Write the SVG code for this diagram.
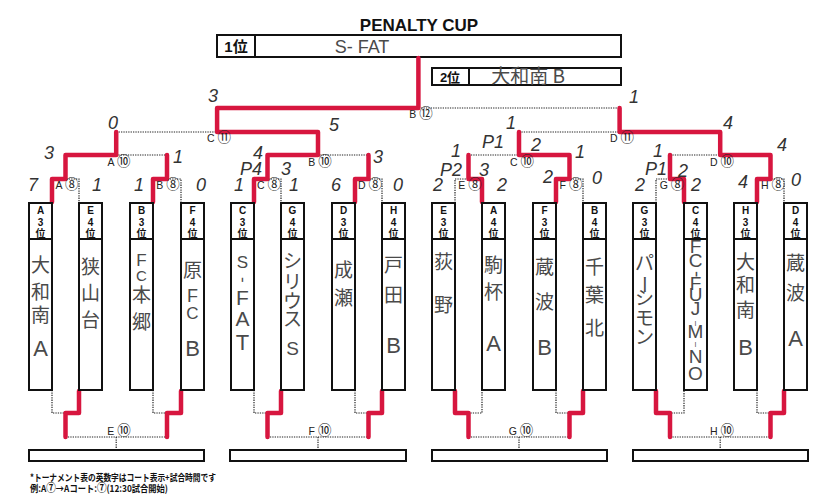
<svg xmlns="http://www.w3.org/2000/svg" width="837" height="504" viewBox="0 0 837 504">
<style>
.box{fill:#fff;stroke:#111;stroke-width:2}
.sep{stroke:#111;stroke-width:2}
.dot{fill:none;stroke:#222;stroke-width:1.2;stroke-dasharray:1.3 1.1}
.red{fill:none;stroke:#d7163f;stroke-width:4.5;stroke-linejoin:round;stroke-linecap:round}
.hd{font-family:"Liberation Sans","Noto Sans CJK JP",sans-serif;font-weight:bold;font-size:10px;text-anchor:middle;fill:#111}
.lbl{font-family:"Liberation Sans",sans-serif;font-size:10.5px;text-anchor:middle;fill:#222}
.cn{font-family:"Noto Sans CJK JP",sans-serif;font-size:13.5px}
.hw{font-family:"Noto Sans CJK JP",sans-serif;font-size:19px;fill:#4a4a4a;text-anchor:middle}
.lt{font-family:"Liberation Sans",sans-serif;fill:#4a4a4a}
.sc{font-family:"Liberation Sans",sans-serif;font-style:italic;font-size:18px;fill:#333;text-anchor:middle}
.title{font-family:"Liberation Sans",sans-serif;font-weight:bold;font-size:17px;text-anchor:middle;fill:#111}
.rk{font-family:"Liberation Sans","Noto Sans CJK JP",sans-serif;font-weight:bold;text-anchor:middle;fill:#111}
.note{font-family:"Noto Sans CJK JP",sans-serif;font-weight:bold;font-size:9.5px;fill:#111}
.ncn{font-size:11px}
</style>

<text class="title" x="419" y="31">PENALTY CUP</text>

<g id="first">
<rect class="box" x="217" y="35" width="404" height="22" stroke-width="2.5"/>
<line class="sep" x1="255" y1="35" x2="255" y2="57"/>
<text class="rk" x="236" y="52" font-size="15">1位</text>
<text class="lt" x="362" y="53" font-size="18" text-anchor="middle">S- FAT</text>
</g>
<g id="second">
<rect class="box" x="432" y="68" width="189" height="17"/>
<line class="sep" x1="469" y1="68" x2="469" y2="85"/>
<text class="rk" x="450" y="82" font-size="13">2位</text>
<text class="hw" x="528" y="82.5" font-size="14">大和南 B</text>
</g>

<g id="connectors">
<path class="dot" d="M52 203V179H79V203M65.5 179V155M153 203V179H181V203M167 179V155M254 203V179H281V203M267.5 179V155M355 203V179H382V203M368.5 179V155M455 203V179H482V203M468.5 179V155M556 203V179H583V203M569.5 179V155M656 203V179H684V203M670 179V155M757 203V179H784V203M770.5 179V155"/>
<path class="dot" d="M65.5 155H167M116.2 155V132M267.5 155H368.5M318 155V132M468.5 155H569.5M519 155V132M670 155H770.5M720.2 155V132"/>
<path class="dot" d="M116.2 132H318M217.1 132V108M519 132H720.2M619.6 132V108M217.1 108H619.6M418.4 108V57"/>
<path class="dot" d="M52 390V413H79V390M65.5 413V437M153 390V413H181V390M167 413V437M65.5 437H167M116.2 437V450"/>
<path class="dot" d="M254 390V413H281V390M267.5 413V437M355 390V413H382V390M368.5 413V437M267.5 437H368.5M318 437V450"/>
<path class="dot" d="M455 390V413H482V390M468.5 413V437M556 390V413H583V390M569.5 413V437M468.5 437H569.5M519 437V450"/>
<path class="dot" d="M656 390V413H684V390M670 413V437M757 390V413H784V390M770.5 413V437M670 437H770.5M720.2 437V450"/>
</g>

<g id="winners">
<path class="red" d="M52 202V179H65.5V155H116.2V132"/>
<path class="red" d="M153 202V179H167V155"/>
<path class="red" d="M254 202V179H267.5V155H318V132H217.1V108H418.4V58"/>
<path class="red" d="M355 202V179H368.5V155"/>
<path class="red" d="M482 202V179H468.5V155"/>
<path class="red" d="M556 202V179H569.5V155H519V132"/>
<path class="red" d="M684 202V179H670V155"/>
<path class="red" d="M757 202V179H770.5V155H720.2V132H619.6V108"/>
<path class="red" d="M79 391V413H65.5V437"/>
<path class="red" d="M181 391V413H167V437"/>
<path class="red" d="M281 391V413H267.5V437"/>
<path class="red" d="M382 391V413H368.5V437"/>
<path class="red" d="M455 391V413H468.5V437"/>
<path class="red" d="M583 391V413H569.5V437"/>
<path class="red" d="M656 391V413H670V437"/>
<path class="red" d="M784 391V413H770.5V437"/>
</g>

<g id="match-labels">
<text class="lbl" x="67" y="189">A <tspan class="cn">⑧</tspan></text>
<text class="lbl" x="168" y="189">B <tspan class="cn">⑧</tspan></text>
<text class="lbl" x="269" y="189">C <tspan class="cn">⑧</tspan></text>
<text class="lbl" x="370" y="189">D <tspan class="cn">⑧</tspan></text>
<text class="lbl" x="470" y="189">E <tspan class="cn">⑧</tspan></text>
<text class="lbl" x="571" y="189">F <tspan class="cn">⑧</tspan></text>
<text class="lbl" x="672" y="189">G <tspan class="cn">⑧</tspan></text>
<text class="lbl" x="773" y="189">H <tspan class="cn">⑧</tspan></text>
<text class="lbl" x="119" y="166">A <tspan class="cn">⑩</tspan></text>
<text class="lbl" x="320" y="166">B <tspan class="cn">⑩</tspan></text>
<text class="lbl" x="522" y="166">C <tspan class="cn">⑩</tspan></text>
<text class="lbl" x="722" y="166">D <tspan class="cn">⑩</tspan></text>
<text class="lbl" x="219" y="142">C <tspan class="cn">⑪</tspan></text>
<text class="lbl" x="622" y="142">D <tspan class="cn">⑪</tspan></text>
<text class="lbl" x="421" y="118">B <tspan class="cn">⑫</tspan></text>
<text class="lbl" x="119" y="435">E <tspan class="cn">⑩</tspan></text>
<text class="lbl" x="320" y="435">F <tspan class="cn">⑩</tspan></text>
<text class="lbl" x="521" y="435">G <tspan class="cn">⑩</tspan></text>
<text class="lbl" x="722" y="435">H <tspan class="cn">⑩</tspan></text>
</g>

<g id="scores">
<text class="sc" x="213" y="102">3</text>
<text class="sc" x="634" y="103">1</text>
<text class="sc" x="113" y="129">0</text>
<text class="sc" x="334" y="131">5</text>
<text class="sc" x="511" y="129">1</text>
<text class="sc" x="728" y="129">4</text>
<text class="sc" x="49" y="159">3</text>
<text class="sc" x="178" y="163">1</text>
<text class="sc" x="258" y="159">4</text>
<text class="sc" x="378" y="163">3</text>
<text class="sc" x="456" y="157">1</text>
<text class="sc" x="493" y="148" font-size="15">P1</text>
<text class="sc" x="536" y="151">2</text>
<text class="sc" x="580" y="158">1</text>
<text class="sc" x="658" y="157">1</text>
<text class="sc" x="782" y="151">4</text>
<text class="sc" x="251" y="175" font-size="14">P4</text>
<text class="sc" x="286" y="175" font-size="15">3</text>
<text class="sc" x="451" y="176" font-size="15">P2</text>
<text class="sc" x="484" y="176" font-size="15">3</text>
<text class="sc" x="656" y="175" font-size="15">P1</text>
<text class="sc" x="683" y="177" font-size="15">2</text>
<text class="sc" x="33" y="191">7</text>
<text class="sc" x="97" y="191">1</text>
<text class="sc" x="139" y="191">1</text>
<text class="sc" x="201" y="191">0</text>
<text class="sc" x="239" y="191">1</text>
<text class="sc" x="294" y="191">1</text>
<text class="sc" x="336" y="191">6</text>
<text class="sc" x="398" y="191">0</text>
<text class="sc" x="438" y="191">2</text>
<text class="sc" x="502" y="191">2</text>
<text class="sc" x="548" y="183">2</text>
<text class="sc" x="597" y="184">0</text>
<text class="sc" x="640" y="191">2</text>
<text class="sc" x="696" y="191">2</text>
<text class="sc" x="743" y="188">4</text>
<text class="sc" x="796" y="186">0</text>
</g>

<g id="team-A3">
<rect class="box" x="29" y="203" width="23" height="187"/><line class="sep" x1="29" y1="239" x2="52" y2="239"/>
<text class="hd"><tspan x="40.5" y="214">A</tspan><tspan x="40.5" y="226">3</tspan><tspan x="40.5" y="237">位</tspan></text>
<text class="hw"><tspan x="40.5" y="272">大</tspan><tspan x="40.5" y="299">和</tspan><tspan x="40.5" y="322">南</tspan><tspan x="40.5" y="356" class="lt" font-size="22">A</tspan></text>
</g>
<g id="team-E4">
<rect class="box" x="79" y="203" width="23" height="187"/><line class="sep" x1="79" y1="239" x2="102" y2="239"/>
<text class="hd"><tspan x="90.5" y="214">E</tspan><tspan x="90.5" y="226">4</tspan><tspan x="90.5" y="237">位</tspan></text>
<text class="hw"><tspan x="90.5" y="274">狭</tspan><tspan x="90.5" y="300">山</tspan><tspan x="90.5" y="327">台</tspan></text>
</g>
<g id="team-B3">
<rect class="box" x="130" y="203" width="23" height="187"/><line class="sep" x1="130" y1="239" x2="153" y2="239"/>
<text class="hd"><tspan x="141.5" y="214">B</tspan><tspan x="141.5" y="226">3</tspan><tspan x="141.5" y="237">位</tspan></text>
<text class="hw"><tspan x="141.5" y="266" class="lt" font-size="17">F</tspan><tspan x="141.5" y="281" class="lt" font-size="15">C</tspan><tspan x="141.5" y="302">本</tspan><tspan x="141.5" y="329">郷</tspan></text>
</g>
<g id="team-F4">
<rect class="box" x="181" y="203" width="23" height="187"/><line class="sep" x1="181" y1="239" x2="204" y2="239"/>
<text class="hd"><tspan x="192.5" y="214">F</tspan><tspan x="192.5" y="226">4</tspan><tspan x="192.5" y="237">位</tspan></text>
<text class="hw"><tspan x="192.5" y="277">原</tspan><tspan x="192.5" y="302" class="lt" font-size="18">F</tspan><tspan x="192.5" y="319" class="lt" font-size="17">C</tspan><tspan x="192.5" y="356" class="lt" font-size="22">B</tspan></text>
</g>
<g id="team-C3">
<rect class="box" x="231" y="203" width="23" height="187"/><line class="sep" x1="231" y1="239" x2="254" y2="239"/>
<text class="hd"><tspan x="242.5" y="214">C</tspan><tspan x="242.5" y="226">3</tspan><tspan x="242.5" y="237">位</tspan></text>
<text class="hw lt" rotate="0 90 0 0 0"><tspan x="242.5" y="268" font-size="17">S</tspan><tspan x="240.4" y="277" font-size="17">-</tspan><tspan x="242.5" y="305" font-size="21">F</tspan><tspan x="242.5" y="326" font-size="21">A</tspan><tspan x="242.5" y="350" font-size="22">T</tspan></text>
</g>
<g id="team-G4">
<rect class="box" x="281" y="203" width="23" height="187"/><line class="sep" x1="281" y1="239" x2="304" y2="239"/>
<text class="hd"><tspan x="292.5" y="214">G</tspan><tspan x="292.5" y="226">4</tspan><tspan x="292.5" y="237">位</tspan></text>
<text class="hw"><tspan x="292.5" y="268">シ</tspan><tspan x="292.5" y="289">リ</tspan><tspan x="292.5" y="308">ウ</tspan><tspan x="292.5" y="326">ス</tspan><tspan x="292.5" y="355" class="lt" font-size="19">S</tspan></text>
</g>
<g id="team-D3">
<rect class="box" x="332" y="203" width="23" height="187"/><line class="sep" x1="332" y1="239" x2="355" y2="239"/>
<text class="hd"><tspan x="343.5" y="214">D</tspan><tspan x="343.5" y="226">3</tspan><tspan x="343.5" y="237">位</tspan></text>
<text class="hw"><tspan x="343.5" y="277">成</tspan><tspan x="343.5" y="305">瀬</tspan></text>
</g>
<g id="team-H4">
<rect class="box" x="382" y="203" width="23" height="187"/><line class="sep" x1="382" y1="239" x2="405" y2="239"/>
<text class="hd"><tspan x="393.5" y="214">H</tspan><tspan x="393.5" y="226">4</tspan><tspan x="393.5" y="237">位</tspan></text>
<text class="hw"><tspan x="393.5" y="272">戸</tspan><tspan x="393.5" y="302">田</tspan><tspan x="393.5" y="353" class="lt" font-size="22">B</tspan></text>
</g>
<g id="team-E3">
<rect class="box" x="432" y="203" width="23" height="187"/><line class="sep" x1="432" y1="239" x2="455" y2="239"/>
<text class="hd"><tspan x="443.5" y="214">E</tspan><tspan x="443.5" y="226">3</tspan><tspan x="443.5" y="237">位</tspan></text>
<text class="hw"><tspan x="443.5" y="269">荻</tspan><tspan x="443.5" y="312">野</tspan></text>
</g>
<g id="team-A4">
<rect class="box" x="482" y="203" width="23" height="187"/><line class="sep" x1="482" y1="239" x2="505" y2="239"/>
<text class="hd"><tspan x="493.5" y="214">A</tspan><tspan x="493.5" y="226">4</tspan><tspan x="493.5" y="237">位</tspan></text>
<text class="hw"><tspan x="493.5" y="272">駒</tspan><tspan x="493.5" y="299">杯</tspan><tspan x="493.5" y="351" class="lt" font-size="22">A</tspan></text>
</g>
<g id="team-F3">
<rect class="box" x="533" y="203" width="23" height="187"/><line class="sep" x1="533" y1="239" x2="556" y2="239"/>
<text class="hd"><tspan x="544.5" y="214">F</tspan><tspan x="544.5" y="226">3</tspan><tspan x="544.5" y="237">位</tspan></text>
<text class="hw"><tspan x="544.5" y="274">蔵</tspan><tspan x="544.5" y="309">波</tspan><tspan x="544.5" y="355" class="lt" font-size="22">B</tspan></text>
</g>
<g id="team-B4">
<rect class="box" x="583" y="203" width="23" height="187"/><line class="sep" x1="583" y1="239" x2="606" y2="239"/>
<text class="hd"><tspan x="594.5" y="214">B</tspan><tspan x="594.5" y="226">4</tspan><tspan x="594.5" y="237">位</tspan></text>
<text class="hw"><tspan x="594.5" y="274">千</tspan><tspan x="594.5" y="302">葉</tspan><tspan x="594.5" y="335">北</tspan></text>
</g>
<g id="team-G3">
<rect class="box" x="633" y="203" width="23" height="187"/><line class="sep" x1="633" y1="239" x2="656" y2="239"/>
<text class="hd"><tspan x="644.5" y="214">G</tspan><tspan x="644.5" y="226">3</tspan><tspan x="644.5" y="237">位</tspan></text>
<text class="hw" font-size="18" rotate="0 90 0 0 0"><tspan x="644.5" y="270">パ</tspan><tspan x="646.5" y="275">ー</tspan><tspan x="644.5" y="305">シ</tspan><tspan x="644.5" y="325">モ</tspan><tspan x="644.5" y="344">ン</tspan></text>
</g>
<g id="team-C4">
<rect class="box" x="684" y="203" width="23" height="187"/><line class="sep" x1="684" y1="239" x2="707" y2="239"/>
<text class="hd"><tspan x="695.5" y="214">C</tspan><tspan x="695.5" y="226">4</tspan><tspan x="695.5" y="237">位</tspan></text>
<text class="hw lt" font-size="12" rotate="0 0 90 0 0 0 0 0 0 0 0"><tspan x="695.5" y="253">F</tspan><tspan x="695.5" y="267">C</tspan><tspan x="694" y="271">-</tspan><tspan x="695.5" y="290">F</tspan><tspan x="695.5" y="301">U</tspan><tspan x="695.5" y="315">J</tspan><tspan x="695.5" y="326" font-size="7">I</tspan><tspan x="695.5" y="338">M</tspan><tspan x="695.5" y="347" font-size="7">I</tspan><tspan x="695.5" y="363">N</tspan><tspan x="695.5" y="380">O</tspan></text>
</g>
<g id="team-H3">
<rect class="box" x="734" y="203" width="23" height="187"/><line class="sep" x1="734" y1="239" x2="757" y2="239"/>
<text class="hd"><tspan x="745.5" y="214">H</tspan><tspan x="745.5" y="226">3</tspan><tspan x="745.5" y="237">位</tspan></text>
<text class="hw"><tspan x="745.5" y="269">大</tspan><tspan x="745.5" y="292">和</tspan><tspan x="745.5" y="317">南</tspan><tspan x="745.5" y="355" class="lt" font-size="22">B</tspan></text>
</g>
<g id="team-D4">
<rect class="box" x="784" y="203" width="23" height="187"/><line class="sep" x1="784" y1="239" x2="807" y2="239"/>
<text class="hd"><tspan x="795.5" y="214">D</tspan><tspan x="795.5" y="226">4</tspan><tspan x="795.5" y="237">位</tspan></text>
<text class="hw"><tspan x="795.5" y="270">蔵</tspan><tspan x="795.5" y="300">波</tspan><tspan x="795.5" y="346" class="lt" font-size="22">A</tspan></text>
</g>

<g id="result-E"><rect class="box" x="29" y="450" width="175" height="11"/></g>
<g id="result-F"><rect class="box" x="230" y="450" width="176" height="11"/></g>
<g id="result-G"><rect class="box" x="432" y="450" width="175" height="11"/></g>
<g id="result-H"><rect class="box" x="633" y="450" width="175" height="11"/></g>

<text class="note" x="30" y="481" textLength="186" lengthAdjust="spacingAndGlyphs">*トーナメント表の英数字はコート表示+試合時間です</text>
<text class="note" x="30" y="492" textLength="138" lengthAdjust="spacingAndGlyphs">例:A<tspan class="ncn">⑦</tspan>→Aコート:<tspan class="ncn">⑦</tspan>(12:30試合開始)</text>
</svg>
